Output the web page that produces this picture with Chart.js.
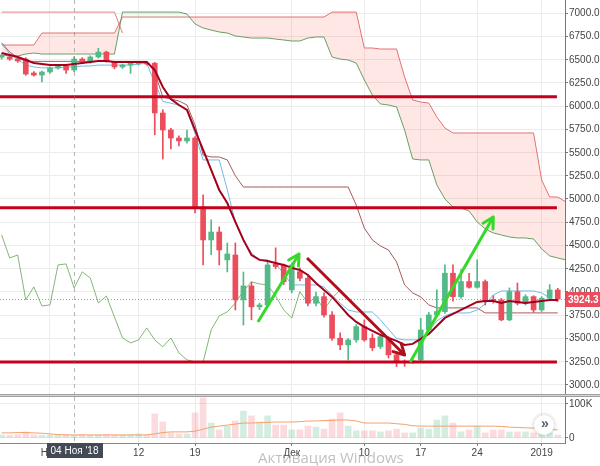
<!DOCTYPE html>
<html>
<head>
<meta charset="utf-8">
<script src="https://cdn.jsdelivr.net/npm/chart.js@4.4.1/dist/chart.umd.min.js"></script>
<style>
  html, body { margin: 0; padding: 0; background: #fff; }
  #wrap { position: relative; width: 600px; height: 466px; overflow: hidden; background: #fff; }
  #priceChart { position: absolute; left: 0; top: 0; }
  #volumeChart { position: absolute; left: 0; top: 394px; }
  #watermark { position: absolute; left: 258px; top: 447px; font: 15px "Open Sans", sans-serif; color: rgba(150,150,150,0.6); white-space: nowrap; }
</style>
</head>
<body>
<div id="wrap">
  <canvas id="priceChart" width="600" height="394"></canvas>
  <canvas id="volumeChart" width="600" height="72"></canvas>
  <div id="watermark">Активация Windows</div>
</div>
<script>
// Day index: 0 = 1 Nov 2018, first candle is day -6
const firstDay = -6;
const xTickDays = [0, 11, 18, 30, 39, 46, 53, 61];
const xTickLabels = ['Ноя', '12', '19', 'Дек', '10', '17', '24', '2019'];
const priceTicks = [3000, 3250, 3500, 3750, 4000, 4250, 4500, 4750, 5000, 5250, 5500, 5750, 6000, 6250, 6500, 6750, 7000];
const volumeTicks = [0, 100000];

// Candles (BTC daily)
const opens  = [6525,6527,6505,6505,6355,6333,6366,6409,6430,6387,6505,6473,6527,6580,6473,6420,6441,6455,6462,
                6460,5925,5742,5656,5624,5656,4914,4560,4645,4345,4398,3915,4065,3840,3861,4299,4291,4022,4219,4148,
                3879,3950,3753,3503,3431,3485,3628,3503,3413,3503,3324,3255,3245,3270,3592,3753,3789,4202,3950,4112,
                4051,4112,3920,3915,3700,4004,3879,3950,3807,3933,4022];
const highs  = [6560,6540,6515,6520,6370,6375,6420,6440,6445,6530,6520,6540,6620,6590,6480,6450,6475,6475,6480,
                6470,5960,5760,5680,5742,5670,5044,4775,4700,4527,4527,4215,4108,3880,4325,4475,4300,4310,4260,4170,
                4000,3990,3790,3560,3500,3650,3700,3550,3540,3520,3340,3270,3290,3718,3780,4022,4291,4291,4240,4200,
                4345,4130,3960,3930,4044,4097,3970,3960,3950,4080,4040];
const lows   = [6505,6490,6470,6330,6320,6258,6350,6395,6350,6370,6460,6460,6515,6470,6400,6405,6350,6440,6440,
                5690,5430,5538,5570,5600,4850,4290,4400,4290,4216,3807,3645,3700,3810,3840,4250,4080,3990,4120,3850,
                3850,3730,3480,3380,3270,3460,3470,3370,3390,3290,3198,3200,3230,3250,3580,3740,3770,3900,3930,4040,
                4040,3860,3880,3690,3690,3860,3860,3780,3790,3920,3900];
const closes = [6545,6505,6484,6344,6333,6366,6409,6430,6387,6505,6473,6527,6580,6484,6420,6441,6462,6462,6452,
                5925,5742,5656,5624,5656,4914,4560,4645,4452,4409,3915,4065,3840,3860,4291,4273,4111,4291,4148,3879,
                3950,3753,3503,3431,3485,3628,3485,3400,3520,3324,3250,3245,3260,3592,3753,3789,4202,3950,4112,4051,
                4112,3897,3910,3700,4004,3879,3950,3807,3933,4022,3924.3];
const lastPrice = 3924.3;

// Volume, thousands
const volumes = [9,8,10,18,9,8,8,9,10,9,10,8,9,10,9,9,10,12,10,
                 71,47,15,12,12,74,118,44,24,35,50,79,65,47,65,38,38,24,24,35,32,26,56,74,35,21,21,21,18,21,
                 26,15,15,29,26,53,65,44,18,24,35,15,24,24,18,18,18,15,15,15,9];
const volumeMA = [15,15,16,16,15,14,12,10,9,9,9,9,9,9,9,9,9,9,9,
                  12,16,18,18,18,20,26,32,35,38,41,44,44,45,46,47,47,47,48,50,50,51,52,53,53,
                  50,44,44,44,44,42,40,36,35,35,35,35,35,35,35,35,35,35,34,32,31,30,29,27,25,24];

// Overlays
const maLine = [6570,6548,6527,6495,6462,6452,6441,6441,6441,6452,6462,6473,6484,6484,6473,6473,6473,6473,6473,
                6387,6204,6075,6011,5957,5742,5527,5312,5097,4957,4753,4560,4398,4345,4334,4312,4291,4259,4237,4183,
                4097,4022,3947,3850,3753,3678,3624,3581,3538,3506,3474,3431,3442,3495,3549,3635,3721,3764,3807,3850,
                3893,3904,3904,3882,3904,3893,3882,3893,3904,3915,3915];
const tenkan = [6670,6560,6500,6440,6420,6410,6410,6410,6420,6420,6430,6430,6440,6440,6440,6440,6440,6450,6460,
                6250,6050,6030,6010,5960,5700,5420,5420,5420,5100,4750,4550,4420,4345,4345,4300,4200,4076,4076,4076,
                4076,4055,3968,3880,3807,3785,3785,3785,3700,3600,3500,3485,3485,3485,3580,3690,3743,3775,3775,3775,
                3807,3870,3968,4011,4011,4011,4011,4011,3990,3936,3893];
const kijun  = [6680,6580,6520,6480,6480,6480,6480,6480,6480,6480,6480,6480,6480,6480,6480,6480,6480,6480,6480,
                6366,6097,6075,6054,6011,5796,5473,5452,5452,5420,5250,5129,5129,5129,5129,5129,5129,5129,5129,5129,
                5129,5129,5129,5129,5129,4935,4688,4560,4495,4452,4323,4076,3990,3947,3861,3829,3829,3829,3829,3829,
                3829,3775,3775,3775,3775,3775,3775,3775,3775,3775,3775];
const chikou = [4614,4366,4398,3915,4055,3850,3861,4291,4302,4044,4216,4151,3882,3957,3732,3506,3452,3485,3614,
                3485,3410,3506,3345,3270,3248,3248,3592,3743,3786,3882,4011,4108,4087,4076,3957,3807,3720,4004,3879,
                3950,3807,3933,4022,3924];
const spanA  = [6548,6538,6538,6559,6570,6559,6559,6559,6559,6559,6559,6559,6559,6559,6559,7010,7010,7010,7010,
                7010,7010,7010,7010,6989,6882,6839,6817,6796,6785,6753,6742,6731,6731,6731,6720,6710,6699,6699,6731,
                6742,6742,6527,6505,6495,6462,6280,6118,6022,6011,5990,5742,5430,5420,5420,5151,5000,4914,4903,4871,
                4753,4678,4635,4613,4592,4581,4581,4570,4463,4388,4366,4345];
const spanB  = [6656,6656,6656,6656,6656,6785,6785,6785,6785,6785,6785,6785,6785,6785,6785,6957,6957,6957,6957,
                6957,6957,6957,6957,6957,6957,6957,6957,6957,6957,6957,6957,6957,6957,6957,6957,6957,6957,6957,6957,
                6957,6957,7010,7010,7010,7010,6624,6624,6613,6613,6613,6312,6065,6043,6032,5882,5764,5710,5710,5710,
                5710,5710,5710,5710,5710,5710,5710,5710,5205,5022,5022,4968];
const spanBPrev = [7010,7010,7010,7010,7010,7010,7010,7010,7010,7010,7010,7010,7010,7010,7010,6785];

// Drawn levels and arrows (day, price)
const levelPrices = [6100, 4905, 3248];
const levelSpan = [-6.2, 62.9];
const arrowUpFirst = [[25.8, 3678], [30.9, 4409]];
const arrowDown = [[31.9, 4366], [44.0, 3323]];
const arrowUpSecond = [[44.7, 3248], [55.0, 4807]];

const crosshairDay = 3;
const crosshairLabel = "04 Ноя '18";

const UP = '#53b987', DOWN = '#eb4d5c';
const X_MIN = -6.2, X_MAX = 63.9;
const FONT = '"Liberation Sans", Arial, sans-serif';
const AXIS_TEXT = '#444';

const series = (arr) => arr.map((v, i) => ({ x: firstDay + i, y: v }));
const isUp = closes.map((c, i) => c >= opens[i]);
const candleColors = isUp.map(u => u ? UP : DOWN);

function lineDs(label, data, color, width, order, extra) {
  return Object.assign({
    type: 'line', label, data, borderColor: color, borderWidth: width,
    pointRadius: 0, tension: 0, fill: false, order
  }, extra || {});
}

// y labels are drawn by hand: Chart.js pads the plot by half a label otherwise
function drawYLabels(chart, values, fmt) {
  const { ctx, chartArea, scales } = chart;
  ctx.save();
  ctx.fillStyle = AXIS_TEXT;
  ctx.font = '10px ' + FONT;
  ctx.textBaseline = 'middle';
  ctx.textAlign = 'left';
  values.forEach(v => {
    ctx.fillText(fmt(v), chartArea.right + 4, Math.round(scales.y.getPixelForValue(v)) + 0.5);
  });
  ctx.restore();
}

const datasets = [
  lineDs('arrowUp1', arrowUpFirst.map(p => ({ x: p[0], y: p[1] })), '#36d82a', 3, 0, { isArrow: true }),
  lineDs('arrowDown', arrowDown.map(p => ({ x: p[0], y: p[1] })), '#b0101c', 3, 0, { isArrow: true }),
  lineDs('arrowUp2', arrowUpSecond.map(p => ({ x: p[0], y: p[1] })), '#36d82a', 3, 0, { isArrow: true }),
  lineDs('MA', series(maLine), '#a3001c', 2, 1),
  ...levelPrices.map(lv => lineDs('level', levelSpan.map(x => ({ x, y: lv })), '#c4001a', 3, 2)),
  {
    type: 'bar', label: 'bodies', order: 3, grouped: false,
    data: opens.map((o, i) => ({ x: firstDay + i, y: [o, closes[i]] })),
    backgroundColor: candleColors, barThickness: 5, minBarLength: 1, borderWidth: 0
  },
  {
    type: 'bar', label: 'wicks', order: 4, grouped: false,
    data: lows.map((l, i) => ({ x: firstDay + i, y: [l, highs[i]] })),
    backgroundColor: candleColors, barThickness: 1, borderWidth: 0
  },
  lineDs('Tenkan', series(tenkan), '#72b9e6', 1, 5),
  lineDs('Kijun', series(kijun), '#a65a5a', 1, 6),
  lineDs('Chikou', series(chikou), 'rgba(110,170,95,0.85)', 1, 7),
  lineDs('SpanBPrev', series(spanBPrev), '#e98080', 1, 10)
];
const spanAIndex = datasets.length;
datasets.push(lineDs('SpanA', series(spanA), 'rgba(90,150,85,0.9)', 1, 8, {
  fill: { target: spanAIndex + 1, above: 'rgba(76,175,80,0.06)', below: 'rgba(244,67,54,0.13)' }
}));
datasets.push(lineDs('SpanB', series(spanB), '#e57373', 1, 9));

function yToPx(chart, v) { return chart.scales.y.getPixelForValue(v); }

const priceOverlay = {
  id: 'priceOverlay',
  beforeDatasetsDraw(chart) {
    const { ctx, chartArea } = chart;
    const y = Math.round(yToPx(chart, lastPrice)) + 0.5;
    ctx.save();
    ctx.strokeStyle = 'rgba(83,185,135,0.9)';
    ctx.setLineDash([1, 2]);
    ctx.lineWidth = 1;
    ctx.beginPath();
    ctx.moveTo(chartArea.left, y);
    ctx.lineTo(chartArea.right, y);
    ctx.stroke();
    ctx.restore();
  },
  afterDatasetsDraw(chart) {
    const ctx = chart.ctx;
    chart.data.datasets.forEach((ds, i) => {
      if (!ds.isArrow) return;
      const pts = chart.getDatasetMeta(i).data;
      const a = pts[0], b = pts[pts.length - 1];
      const ang = Math.atan2(b.y - a.y, b.x - a.x);
      ctx.save();
      ctx.strokeStyle = ds.borderColor;
      ctx.lineWidth = 3;
      ctx.lineCap = 'round';
      ctx.beginPath();
      [-0.5, 0.5].forEach(off => {
        ctx.moveTo(b.x, b.y);
        ctx.lineTo(b.x - 12 * Math.cos(ang + off), b.y - 12 * Math.sin(ang + off));
      });
      ctx.stroke();
      ctx.restore();
    });
  },
  afterDraw(chart) {
    const { ctx, chartArea } = chart;
    drawYLabels(chart, priceTicks, v => v.toFixed(1));
    // crosshair
    const cx = Math.round(chart.scales.x.getPixelForValue(crosshairDay)) + 0.5;
    ctx.save();
    ctx.strokeStyle = 'rgba(120,120,120,0.55)';
    ctx.setLineDash([4, 4]);
    ctx.beginPath();
    ctx.moveTo(cx, 0);
    ctx.lineTo(cx, chartArea.bottom);
    ctx.stroke();
    ctx.restore();
    // last price label
    const y = Math.round(yToPx(chart, lastPrice));
    ctx.save();
    ctx.fillStyle = DOWN;
    ctx.fillRect(chartArea.right + 1, y - 7, 40, 15);
    ctx.fillStyle = '#fff';
    ctx.font = 'bold 10px ' + FONT;
    ctx.textBaseline = 'middle';
    ctx.fillText(lastPrice.toFixed(1), chartArea.right + 3, y + 1);
    ctx.restore();
  }
};

const xScaleBase = {
  type: 'linear', min: X_MIN, max: X_MAX, offset: false,
  afterBuildTicks: s => { s.ticks = xTickDays.map(v => ({ value: v })); }
};

new Chart(document.getElementById('priceChart'), {
  type: 'line',
  data: { datasets },
  options: {
    responsive: false, animation: false,
    layout: { padding: 0 },
    plugins: { legend: { display: false }, tooltip: { enabled: false } },
    scales: {
      x: Object.assign({}, xScaleBase, {
        grid: { color: '#ececec', drawTicks: false, offset: false },
        border: { display: false },
        ticks: { display: false },
        afterFit: s => { s.height = 0; }
      }),
      y: {
        position: 'right', min: 2903, max: 7140,
        afterBuildTicks: s => { s.ticks = priceTicks.map(v => ({ value: v })); },
        afterFit: s => { s.width = 35; },
        grid: { color: '#ececec', tickColor: '#777', tickLength: 3 },
        border: { display: true, color: '#777' },
        ticks: { display: false }
      }
    }
  },
  plugins: [priceOverlay]
});

const volumeOverlay = {
  id: 'volumeOverlay',
  afterDraw(chart) {
    const { ctx, chartArea } = chart;
    drawYLabels(chart, volumeTicks, v => v === 0 ? '0' : (v / 1000) + 'K');
    ctx.save();
    // pane separator
    ctx.fillStyle = '#9e9e9e';
    ctx.fillRect(0, 0, 600, 1);
    ctx.fillRect(0, 2, 600, 1);
    ctx.fillStyle = '#d6d6d6';
    ctx.fillRect(0, 1, 600, 1);
    // crosshair
    const cx = Math.round(chart.scales.x.getPixelForValue(crosshairDay)) + 0.5;
    ctx.strokeStyle = 'rgba(120,120,120,0.55)';
    ctx.setLineDash([4, 4]);
    ctx.beginPath();
    ctx.moveTo(cx, 3);
    ctx.lineTo(cx, chartArea.bottom);
    ctx.stroke();
    ctx.setLineDash([]);
    // date tooltip
    ctx.font = '10px ' + FONT;
    const w = Math.ceil(ctx.measureText(crosshairLabel).width) + 8;
    ctx.fillStyle = '#434a56';
    ctx.fillRect(Math.round(cx - w / 2), chartArea.bottom, w, 15);
    ctx.fillStyle = '#fff';
    ctx.textAlign = 'center';
    ctx.textBaseline = 'middle';
    ctx.fillText(crosshairLabel, cx, chartArea.bottom + 8);
    // scroll button
    ctx.shadowColor = 'rgba(0,0,0,0.25)';
    ctx.shadowBlur = 4;
    ctx.fillStyle = '#fff';
    ctx.beginPath();
    ctx.arc(544, 31, 10, 0, Math.PI * 2);
    ctx.fill();
    ctx.shadowBlur = 0;
    ctx.fillStyle = '#5a5f6a';
    ctx.font = 'bold 14px ' + FONT;
    ctx.fillText('»', 545, 30);
    ctx.restore();
  }
};

new Chart(document.getElementById('volumeChart'), {
  type: 'line',
  data: {
    datasets: [
      lineDs('Volume MA', series(volumeMA.map(v => v * 1000)), '#f4a06a', 1, 0),
      {
        type: 'bar', label: 'Volume', order: 1, grouped: false,
        data: series(volumes.map(v => v * 1000)),
        backgroundColor: isUp.map(u => u ? 'rgba(83,185,135,0.25)' : 'rgba(235,77,92,0.2)'),
        barThickness: 6, borderWidth: 0
      }
    ]
  },
  options: {
    responsive: false, animation: false,
    layout: { padding: { top: 3, left: 0, right: 0, bottom: 0 } },
    plugins: { legend: { display: false }, tooltip: { enabled: false } },
    scales: {
      x: Object.assign({}, xScaleBase, {
        grid: { color: '#ececec', tickColor: '#777', tickLength: 3, offset: false },
        border: { display: true, color: '#888' },
        afterFit: s => { s.height = 23; },
        ticks: {
          autoSkip: false, maxRotation: 0, padding: 1, color: AXIS_TEXT,
          font: { size: 10, family: FONT },
          callback: v => xTickLabels[xTickDays.indexOf(v)]
        }
      }),
      y: {
        position: 'right', min: -14706, max: 120588,
        afterBuildTicks: s => { s.ticks = volumeTicks.map(v => ({ value: v })); },
        afterFit: s => { s.width = 35; },
        grid: { color: '#ececec', tickColor: '#777', tickLength: 3 },
        border: { display: true, color: '#777' },
        ticks: { display: false }
      }
    }
  },
  plugins: [volumeOverlay]
});
</script>
</body>
</html>
